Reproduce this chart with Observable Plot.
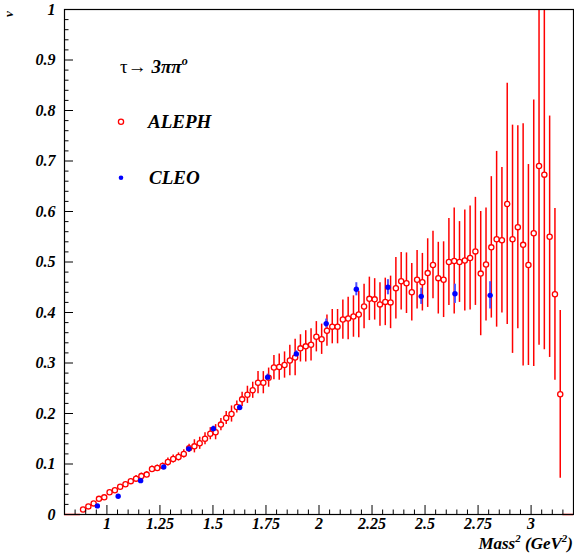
<!DOCTYPE html>
<html><head><meta charset="utf-8">
<script src="https://cdn.jsdelivr.net/npm/d3@7"></script>
<script src="https://cdn.jsdelivr.net/npm/@observablehq/plot@0.6"></script>
<style>
body{margin:0;background:#fff;}
#wrap{position:relative;width:574px;height:554px;}
#over{position:absolute;left:0;top:0;pointer-events:none;}
</style></head><body><div id="wrap"></div>
<script>
// ALEPH: bin centres (GeV^2), spectral function nu, error
const alephMass = [0.8875,0.9125,0.9375,0.9625,0.9875,
1.0125,1.0375,1.0625,1.0875,1.1125,1.1375,1.1625,1.1875,1.2125,1.2375,1.2625,1.2875,1.3125,1.3375,1.3625,1.3875,1.4125,1.4375,1.4625,1.4875,1.5125,1.5375,1.5625,1.5875,1.6125,1.6375,1.6625,1.6875,1.7125,1.7375,1.7625,1.7875,1.8125,1.8375,1.8625,1.8875,1.9125,1.9375,1.9625,1.9875,
2.0125,2.0375,2.0625,2.0875,2.1125,2.1375,2.1625,2.1875,2.2125,2.2375,2.2625,2.2875,2.3125,2.3375,2.3625,2.3875,2.4125,2.4375,2.4625,2.4875,2.5125,2.5375,2.5625,2.5875,2.6125,2.6375,2.6625,2.6875,2.7125,2.7375,2.7625,2.7875,2.8125,2.8375,2.8625,2.8875,2.9125,2.9375,2.9625,2.9875,
3.0125,3.0375,3.0625,3.0875,3.1125,3.1375];
const alephNu = [0.010,0.016,0.022,0.031,0.034,0.044,0.048,0.055,0.060,0.066,
0.071,0.076,0.079,0.090,0.092,0.096,0.104,0.110,0.114,0.120,
0.131,0.135,0.141,0.150,0.160,0.163,0.178,0.191,0.199,0.213,
0.228,0.237,0.246,0.261,0.261,0.271,0.291,0.292,0.296,0.305,
0.311,0.329,0.333,0.336,0.352,0.347,0.364,0.372,0.372,0.386,
0.388,0.392,0.396,0.412,0.427,0.426,0.416,0.421,0.420,0.448,
0.462,0.458,0.440,0.465,0.460,0.478,0.494,0.468,0.465,0.500,
0.502,0.500,0.503,0.508,0.521,0.477,0.495,0.529,0.545,0.543,
0.615,0.545,0.569,0.534,0.494,0.557,0.690,0.673,0.550,0.436,
0.238];
const alephErr = [0.003,0.003,0.003,0.003,0.003,0.003,0.004,0.004,0.004,0.004,
0.006,0.006,0.006,0.006,0.006,0.006,0.008,0.008,0.008,0.008,
0.008,0.013,0.012,0.012,0.012,0.015,0.012,0.013,0.016,0.012,
0.014,0.017,0.016,0.022,0.022,0.019,0.024,0.026,0.026,0.030,
0.036,0.027,0.031,0.032,0.030,0.030,0.031,0.034,0.034,0.039,
0.042,0.041,0.046,0.044,0.043,0.041,0.043,0.047,0.052,0.061,
0.057,0.060,0.057,0.058,0.057,0.068,0.067,0.071,0.075,0.086,
0.105,0.080,0.100,0.103,0.107,0.123,0.112,0.140,0.174,0.144,
0.239,0.226,0.201,0.240,0.199,0.264,0.355,0.347,0.239,0.170,
0.166];
// empty ALEPH bins drawn on the axis
const emptyBinLo = [0.8, 3.15];
const emptyBinHi = [0.875, 3.2];
// CLEO
const cleoMass = [0.955,1.053,1.159,1.268,1.386,1.502,1.626,1.758,1.893,2.034,2.176,2.325,2.482,2.641,2.807];
const cleoNu = [0.017,0.036,0.067,0.094,0.130,0.170,0.212,0.272,0.318,0.378,0.446,0.450,0.432,0.437,0.434];
const cleoErr = [0.003,0.003,0.003,0.004,0.004,0.005,0.005,0.006,0.006,0.009,0.013,0.015,0.016,0.019,0.027];
// ticks
const xMajor = [1,1.25,1.5,1.75,2,2.25,2.5,2.75,3];
const xMajorLabels = ["1","1.25","1.5","1.75","2","2.25","2.5","2.75","3"];
const xMinor = [0.85,0.9,0.95,1.05,1.1,1.15,1.2,1.3,1.35,1.4,1.45,1.55,1.6,1.65,1.7,1.8,1.85,1.9,1.95,2.05,2.1,2.15,2.2,2.3,2.35,2.4,2.45,2.55,2.6,2.65,2.7,2.8,2.85,2.9,2.95,3.05,3.1,3.15];
const yMajor = [0,0.1,0.2,0.3,0.4,0.5,0.6,0.7,0.8,0.9,1];
const yMajorLabels = ["0","0.1","0.2","0.3","0.4","0.5","0.6","0.7","0.8","0.9","1"];
const yMinor = [0.02,0.04,0.06,0.08,0.12,0.14,0.16,0.18,0.22,0.24,0.26,0.28,0.32,0.34,0.36,0.38,0.42,0.44,0.46,0.48,0.52,0.54,0.56,0.58,0.62,0.64,0.66,0.68,0.72,0.74,0.76,0.78,0.82,0.84,0.86,0.88,0.92,0.94,0.96,0.98];

const aleph = alephMass.map((m,i)=>({m, v: alephNu[i], e: alephErr[i]}));
const cleo = cleoMass.map((m,i)=>({m, v: cleoNu[i], e: cleoErr[i]}));
const empty = emptyBinLo.map((lo,i)=>({lo, hi: emptyBinHi[i]}));

const FONT = "Liberation Serif, Times New Roman, serif";
const tickText = {fontSize: 16, fontWeight: "bold", fontStyle: "italic", fill: "black"};

const plot = Plot.plot({
  width: 574, height: 554,
  marginLeft: 64, marginTop: 9, marginRight: 1, marginBottom: 40,
  x: {domain: [0.8, 3.2]},
  y: {domain: [0, 1]},
  style: {fontFamily: FONT, background: "white"},
  marks: [
    Plot.ruleY(empty, {x1: "lo", x2: "hi", y: 0, stroke: "red", strokeWidth: 1.5}),
    Plot.ruleX(aleph, {x: "m", y1: d=>d.v-d.e, y2: d=>d.v+d.e, stroke: "red", strokeWidth: 1.5, clip: true}),
    Plot.ruleX(cleo, {x: "m", y1: d=>d.v-d.e, y2: d=>d.v+d.e, stroke: "#4d4dff", strokeWidth: 2}),
    Plot.dot(aleph, {x: "m", y: "v", r: 2.6, stroke: "red", fill: "white", strokeWidth: 1.3}),
    Plot.dot(cleo, {x: "m", y: "v", r: 2.7, fill: "blue", stroke: "none"}),
    Plot.frame({stroke: "black", strokeWidth: 1.2}),
    Plot.axisY(yMinor, {tickSize: -4.5, tickFormat: () => "", label: null}),
    Plot.axisY(yMajor, {tickSize: -9, tickFormat: () => "", label: null}),
    Plot.axisY(yMajor, {tickSize: 0, tickPadding: 9, tickFormat: (d,i) => yMajorLabels[i], label: null, ...tickText}),
    Plot.axisX(xMinor, {tickSize: -4.5, tickFormat: () => "", label: null}),
    Plot.axisX(xMajor, {tickSize: -9, tickFormat: () => "", label: null}),
    Plot.axisX(xMajor, {tickSize: 0, tickPadding: 3, tickFormat: (d,i) => xMajorLabels[i], label: null, ...tickText})
  ]
});
const wrap = document.getElementById("wrap");
wrap.appendChild(plot);

const over = `
<svg id="over" width="574" height="554" font-family="${FONT}">
  <text x="13" y="14" font-size="13" font-weight="bold" font-style="italic" text-anchor="middle" transform="rotate(-90 13 14)">ν</text>
  <text x="120" y="73" font-size="19"><tspan>τ→ </tspan><tspan font-weight="bold" font-style="italic">3ππ</tspan><tspan font-weight="bold" font-style="italic" font-size="12" dy="-8">o</tspan></text>
  <circle cx="121" cy="121.7" r="2.6" fill="white" stroke="red" stroke-width="1.3"/>
  <text x="148" y="128" font-size="19" font-weight="bold" font-style="italic">ALEPH</text>
  <circle cx="121" cy="177.7" r="2.3" fill="blue"/>
  <text x="149" y="184" font-size="19" font-weight="bold" font-style="italic">CLEO</text>
  <text x="573" y="549" font-size="17" font-weight="bold" font-style="italic" text-anchor="end">Mass<tspan font-size="11" dy="-7">2</tspan><tspan dy="7"> (GeV</tspan><tspan font-size="11" dy="-7">2</tspan><tspan dy="7">)</tspan></text>
</svg>`;
wrap.insertAdjacentHTML("beforeend", over);
</script>
</body></html>
